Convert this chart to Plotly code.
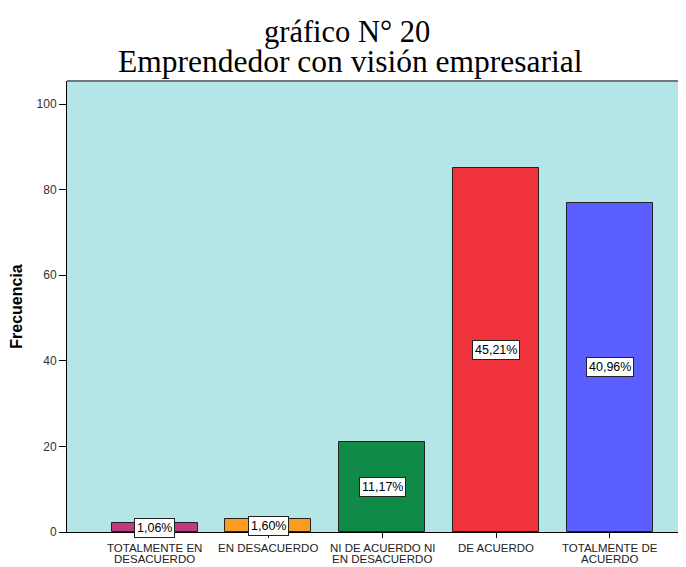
import plotly.graph_objects as go

categories = ["TOTALMENTE EN|DESACUERDO", "EN DESACUERDO", "NI DE ACUERDO NI|EN DESACUERDO",
              "DE ACUERDO", "TOTALMENTE DE|ACUERDO"]
frequencies = [2, 3, 21, 85, 77]
percent_labels = ["1,06%", "1,60%", "11,17%", "45,21%", "40,96%"]
bar_colors = ["#BE3B7F", "#F89C22", "#108A47", "#F0323C", "#5B5FFF"]
y_ticks = [0, 20, 40, 60, 80, 100]

# the page body adds an 8px offset; size the figure to fill the rest of the window
OFF = 8
W, H = 686 - OFF, 567 - OFF
ml, mr, mt = 67 - OFF, 1, 81 - OFF
plot_bottom = 532 - OFF
mb = H - plot_bottom
pw = W - ml - mr
ph = H - mt - mb


def py(ref_y):
    return (plot_bottom - (ref_y - OFF)) / ph


def px(ref_x):
    return ((ref_x - OFF) - ml) / pw


xs = list(range(len(categories)))

fig = go.Figure()
fig.add_trace(go.Bar(
    x=xs, y=frequencies, width=0.755,
    marker=dict(color=bar_colors, line=dict(color="#222222", width=1)),
    hoverinfo="skip",
))

for x, v, t in zip(xs, frequencies, percent_labels):
    fig.add_annotation(x=x, y=v / 2, text=t, showarrow=False, xref="x", yref="y",
                       font=dict(family="Liberation Sans, Arial", size=12.5, color="#000000"),
                       bgcolor="#FFFFFF", bordercolor="#222222", borderwidth=1, borderpad=2)

# category labels (two tight lines)
line_centers = [547.5, 558.5]
for x, cat in zip(xs, categories):
    for i, part in enumerate(cat.split("|")):
        fig.add_annotation(x=x, xref="x", yref="paper", y=py(line_centers[i]),
                           text=part, showarrow=False, xanchor="center", yanchor="middle",
                           font=dict(family="Liberation Sans, Arial", size=11.5, color="#222222"))

fig.add_annotation(x=px(347), y=py(32), xref="paper", yref="paper",
                   text="gráfico N° 20", showarrow=False, xanchor="center", yanchor="middle",
                   font=dict(family="Liberation Serif, Times New Roman", size=30.5, color="#000000"))
fig.add_annotation(x=px(350), y=py(62), xref="paper", yref="paper",
                   text="Emprendedor con visión empresarial", showarrow=False,
                   xanchor="center", yanchor="middle",
                   font=dict(family="Liberation Serif, Times New Roman", size=31.5, color="#000000"))

fig.update_layout(
    width=W, height=H,
    margin=dict(l=ml, r=mr, t=mt, b=mb, autoexpand=False),
    paper_bgcolor="#FFFFFF",
    plot_bgcolor="#B4E6E8",
    showlegend=False,
    bargap=0,
)
fig.update_xaxes(
    range=[-0.77, 4.66], tickmode="array", tickvals=xs, ticktext=["" for _ in xs],
    ticks="outside", ticklen=5, tickcolor="#000000",
    showline=True, linecolor="#000000", linewidth=1, mirror=False,
    showgrid=False, zeroline=False, automargin=False,
)
fig.update_yaxes(
    range=[0, 105.4], tickmode="array", tickvals=y_ticks,
    ticks="outside", ticklen=7, tickcolor="#000000",
    showline=True, linecolor="#000000", linewidth=1,
    showgrid=False, zeroline=False, automargin=False,
    tickfont=dict(family="Liberation Sans, Arial", size=12, color="#333333"),
    title=dict(text="<b>Frecuencia</b>", standoff=14,
               font=dict(family="Liberation Sans, Arial", size=16, color="#000000")),
)
fig.add_shape(type="line", xref="paper", yref="paper", x0=0, x1=1, y0=1, y1=1,
              line=dict(color="#777777", width=2))

fig.write_html("out.html")
